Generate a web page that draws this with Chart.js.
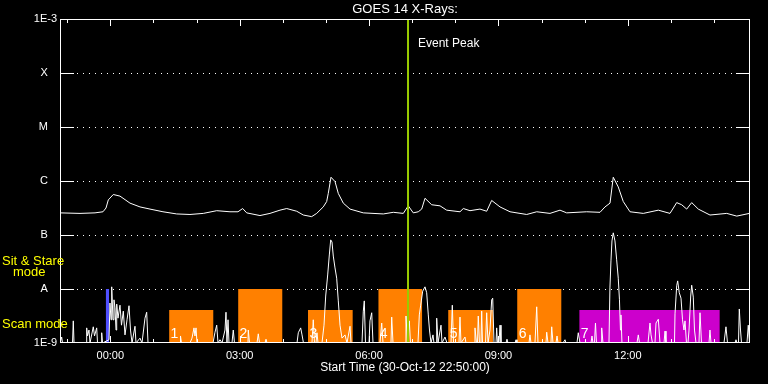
<!DOCTYPE html>
<html>
<head>
<meta charset="utf-8">
<script src="https://cdn.jsdelivr.net/npm/chart.js@4.4.1/dist/chart.umd.min.js"></script>
<style>
  html, body { margin: 0; padding: 0; background: #000; }
  #chart { display: block; }
</style>
</head>
<body>
<canvas id="chart" width="768" height="384"></canvas>
<script>
// times: hours after start (30-Oct-12 22:50:00), flux: log10(W/m^2)
const longTimes = [0, 0.464, 0.812, 0.997, 1.067, 1.120, 1.236, 1.391, 1.623, 1.855, 2.087, 2.388, 2.706, 3.014,
  3.323, 3.634, 3.942, 4.127, 4.236, 4.329, 4.637, 4.869, 5.101, 5.257, 5.489, 5.642, 5.836, 5.952, 6.105,
  6.184, 6.221, 6.284, 6.377, 6.453, 6.569, 6.725, 7.033, 7.497, 7.729, 7.961, 8.076, 8.192, 8.308, 8.387,
  8.464, 8.619, 8.812, 8.967, 9.275, 9.352, 9.507, 9.739, 9.894, 10.010, 10.203, 10.435, 10.822, 11.054,
  11.362, 11.594, 11.749, 12.213, 12.522, 12.638, 12.754, 12.829, 12.945, 13.061, 13.217, 13.525, 13.874,
  14.145, 14.300, 14.416, 14.532, 14.648, 14.801, 15.072, 15.461, 15.693, 15.986];
const longFlux = [-6.59, -6.60, -6.59, -6.57, -6.50, -6.35, -6.25, -6.28, -6.41, -6.48, -6.52, -6.57, -6.61, -6.62,
  -6.60, -6.55, -6.57, -6.57, -6.51, -6.59, -6.64, -6.60, -6.54, -6.51, -6.56, -6.63, -6.66, -6.60, -6.48,
  -6.38, -6.23, -5.93, -6.01, -6.23, -6.41, -6.52, -6.59, -6.61, -6.58, -6.60, -6.46, -6.59, -6.57, -6.52,
  -6.32, -6.44, -6.46, -6.54, -6.57, -6.51, -6.55, -6.52, -6.56, -6.36, -6.48, -6.57, -6.62, -6.57,
  -6.60, -6.54, -6.59, -6.57, -6.58, -6.48, -6.41, -5.93, -6.11, -6.38, -6.57, -6.60, -6.54,
  -6.60, -6.40, -6.44, -6.52, -6.40, -6.52, -6.63, -6.60, -6.65, -6.60];

const shortTimes = [0, 0.039, 0.058, 0.290, 0.308, 0.325, 0.603, 0.619, 0.638, 0.672, 0.696, 0.772, 0.800, 0.851,
  0.870, 0.951, 0.967, 0.986, 1.136, 1.159, 1.183, 1.199, 1.229, 1.252, 1.275, 1.299, 1.315, 1.345, 1.391,
  1.426, 1.468, 1.507, 1.554, 1.600, 1.635, 1.670, 1.739, 1.762, 1.855, 1.901, 1.971, 2.010, 2.041,
  2.783, 2.794, 2.817, 3.014, 3.061, 3.107, 3.130, 3.154, 3.177, 3.548, 3.594, 3.634, 3.664, 3.710, 3.757,
  3.826, 3.849, 3.872, 3.896, 3.919, 3.988, 4.018, 4.046, 4.359, 4.366, 4.394, 4.568, 4.598, 4.626,
  4.754, 4.777, 4.800, 5.496, 5.526, 5.581, 5.612, 5.646, 5.843, 5.873, 5.901, 5.936, 5.959, 5.983,
  6.075, 6.122, 6.161, 6.207, 6.245, 6.277, 6.307, 6.337, 6.377, 6.416, 6.453, 6.493, 6.539, 6.609,
  6.655, 6.725, 6.748, 7.003, 7.033, 7.056, 7.084, 7.165, 7.188, 7.228, 7.258, 7.420, 7.460, 7.490,
  7.675, 7.692, 7.722, 8.000, 8.023, 8.058, 8.100, 8.127, 8.301, 8.332, 8.364, 8.410, 8.464, 8.503,
  8.540, 8.568, 8.603, 8.649, 8.672, 8.719, 8.735, 8.765, 8.835, 8.858, 8.927, 8.974, 9.067, 9.097,
  9.125, 9.252, 9.275, 9.298, 9.391, 9.414, 9.600, 9.623, 9.658, 9.681, 9.699, 9.727, 9.762, 9.778,
  9.797, 9.867, 9.894, 9.925, 9.971, 10.010, 10.034, 10.064, 10.110, 10.126, 10.145, 10.180, 10.203,
  10.226, 10.342, 10.365, 10.388, 10.551, 10.574, 10.597, 10.875, 10.898, 10.922, 11.014, 11.054,
  11.084, 11.269, 11.286, 11.316, 11.385, 11.402, 11.432, 11.501, 11.525, 11.548, 11.664, 11.710,
  11.733, 11.988, 12.018, 12.058, 12.313, 12.336, 12.359, 12.394, 12.417, 12.440, 12.545, 12.561,
  12.591, 12.730, 12.752, 12.776, 12.799, 12.829, 12.869, 12.908, 12.945, 12.973, 12.996, 13.008,
  13.031, 13.379, 13.410, 13.438, 13.635, 13.681, 13.705, 13.739, 13.797, 13.820, 13.874, 13.913,
  14.006, 14.029, 14.052, 14.249, 14.261, 14.300, 14.323, 14.360, 14.400, 14.435, 14.469, 14.493,
  14.527, 14.562, 14.586, 14.625, 14.648, 14.685, 14.713, 14.748, 14.817, 14.841, 14.875, 15.049,
  15.072, 15.096, 15.397, 15.443, 15.478, 15.652, 15.675, 15.699, 15.733, 15.752, 15.780, 15.803,
  15.930, 15.960, 15.988, 16.0];
const shortFlux = [-9, -8.89, -9, -9, -8.59, -9, -9, -8.72, -8.87, -8.76, -9, -8.70, -8.87, -8.72,
  -9, -9, -8.81, -9, -8.94, -8.26, -8.57, -7.96, -8.57, -8.20, -8.35, -8.76, -8.28, -8.54, -8.30,
  -8.67, -8.41, -8.85, -8.57, -8.31, -8.76, -9, -8.69, -9, -8.91, -9, -8.54, -8.43, -9,
  -9, -8.87, -9, -9, -8.91, -8.72, -8.87, -8.72, -9, -9, -8.80, -8.67, -9, -8.94, -9,
  -8.76, -8.43, -9, -8.57, -9, -9, -8.76, -9, -9, -8.76, -9, -9, -8.83, -9,
  -9, -8.93, -9, -9, -8.81, -8.72, -8.85, -9, -9, -8.57, -9, -9, -8.81, -9,
  -9, -8.67, -8.13, -7.74, -7.37, -7.09, -7.13, -7.39, -7.61, -7.80, -8.22, -8.67, -8.91, -8.85,
  -9, -8.69, -9, -9, -8.41, -8.22, -9, -9, -8.59, -8.44, -9, -9, -8.63, -9,
  -9, -8.52, -9, -9, -8.50, -9, -8.59, -9, -9, -8.48, -8.30, -8.04, -7.96, -8.07,
  -8.48, -8.76, -9, -8.85, -9, -9, -8.54, -9, -8.67, -9, -8.89, -9, -9, -8.30,
  -9, -9, -8.52, -9, -8.89, -9, -9, -8.72, -9, -9, -8.50, -9, -9, -8.41,
  -9, -9, -8.44, -9, -8.76, -8.20, -8.17, -9, -9, -8.72, -9, -9, -8.67,
  -9, -9, -8.93, -9, -9, -8.94, -9, -9, -8.85, -9, -9, -8.33,
  -9, -9, -8.80, -9, -9, -8.70, -9, -9, -8.87, -9, -9, -8.94,
  -9, -9, -8.81, -9, -9, -8.87, -9, -9, -8.63, -9, -9, -8.72,
  -9, -9, -7.98, -7.48, -7.11, -6.96, -7.11, -7.46, -7.80, -8.20, -8.76, -8.48,
  -9, -9, -8.85, -9, -9, -8.63, -8.85, -9, -9, -8.63, -8.56, -9,
  -9, -8.78, -9, -9, -8.46, -7.94, -7.85, -8.07, -8.17, -8.57, -8.76, -8.59,
  -9, -9, -8.76, -8.13, -7.93, -8.15, -8.76, -9, -9, -8.44, -9, -9,
  -8.76, -9, -9, -8.70, -9, -9, -8.94, -9, -9, -8.37, -8.76, -9,
  -9, -8.67, -9, -9];

// observing modes: blue marker, then numbered blocks 1..7
const modeLabels = ['', '1', '2', '3', '4', '5', '6', '7'];
const modeStart = [1.06, 2.53, 4.13, 5.75, 7.38, 9.00, 10.60, 12.04];
const modeEnd = [1.14, 3.56, 5.16, 6.79, 8.40, 10.04, 11.63, 15.30];
const modeTop = [-8, -8.39, -8, -8.39, -8, -8.39, -8, -8.39];

const eventPeak = 8.07;

const xTickHours = [1.1667, 4.1667, 7.1667, 10.1667, 13.1667];
const xTickLabels = ['00:00', '03:00', '06:00', '09:00', '12:00'];
const yTickValues = [-9, -8, -7, -6, -5, -4, -3];
const yTickLabels = ['1E-9', 'A', 'B', 'C', 'M', 'X', '1E-3'];

const modeColors = ['#5050ff', '#ff8000', '#ff8000', '#ff8000', '#ff8000', '#ff8000', '#ff8000', '#cc00cc'];
const FONT = '"Liberation Sans", Arial, sans-serif';

const toPoints = (xs, ys) => xs.map((x, i) => ({ x: x, y: ys[i] }));

const datasets = [];
modeStart.forEach((s, i) => {
  datasets.push({
    data: [{ x: s, y: -9 }, { x: s, y: modeTop[i] }, { x: modeEnd[i], y: modeTop[i] }, { x: modeEnd[i], y: -9 }],
    borderWidth: 0,
    backgroundColor: modeColors[i],
    fill: 'start',
    pointRadius: 0,
    order: 10
  });
});
datasets.push({
  data: toPoints(shortTimes, shortFlux),
  borderColor: '#fff', borderWidth: 1, pointRadius: 0, tension: 0, fill: false, order: 3
});
datasets.push({
  data: toPoints(longTimes, longFlux),
  borderColor: '#fff', borderWidth: 1, pointRadius: 0, tension: 0, fill: false, order: 2
});
datasets.push({
  data: [{ x: eventPeak, y: -9 }, { x: eventPeak, y: -3 }],
  borderColor: '#99cc00', borderWidth: 2, pointRadius: 0, fill: false, order: 1
});

const decorations = {
  id: 'decorations',
  beforeDatasetsDraw(chart) {
    const { ctx, chartArea: a, scales: { y } } = chart;
    ctx.save();
    ctx.strokeStyle = '#fff';
    ctx.lineWidth = 1;
    [-8, -7, -6, -5, -4].forEach(v => {
      const py = Math.round(y.getPixelForValue(v)) + 0.5;
      ctx.setLineDash([1, 5]);
      ctx.beginPath();
      ctx.moveTo(a.left + 17, py);
      ctx.lineTo(a.right - 14, py);
      ctx.stroke();
    });
    ctx.restore();
  },
  afterDatasetsDraw(chart) {
    const { ctx, chartArea: a, scales: { x, y } } = chart;
    ctx.save();
    ctx.strokeStyle = '#fff';
    ctx.lineWidth = 1;
    // side stubs
    [-8, -7, -6, -5, -4].forEach(v => {
      const py = Math.round(y.getPixelForValue(v)) + 0.5;
      ctx.beginPath();
      ctx.moveTo(a.left, py); ctx.lineTo(a.left + 14, py);
      ctx.moveTo(a.right - 14, py); ctx.lineTo(a.right, py);
      ctx.stroke();
    });
    // hourly ticks top and bottom
    for (let k = 0; k < 16; k++) {
      const h = (10 + 60 * k) / 60;
      const px = Math.round(x.getPixelForValue(h)) + 0.5;
      const len = (k - 1) % 3 === 0 ? 7 : 4;
      ctx.beginPath();
      ctx.moveTo(px, a.top); ctx.lineTo(px, a.top + len);
      ctx.moveTo(px, a.bottom); ctx.lineTo(px, a.bottom - len);
      ctx.stroke();
    }
    // frame
    ctx.strokeRect(Math.round(a.left) + 0.5, Math.round(a.top) + 0.5,
      Math.round(a.right - a.left) - 1, Math.round(a.bottom - a.top) - 1);

    // mode numbers
    ctx.fillStyle = '#fff';
    ctx.font = '14px ' + FONT;
    ctx.textBaseline = 'alphabetic';
    modeLabels.forEach((lab, i) => {
      if (!lab) return;
      ctx.fillText(lab, x.getPixelForValue(modeStart[i]) + 1.5, y.getPixelForValue(-9) - 5);
    });

    // event label
    ctx.font = '12px ' + FONT;
    ctx.fillText('Event Peak', x.getPixelForValue(eventPeak) + 10, 46.5);

    // mode legend on the left
    ctx.fillStyle = '#ffff00';
    ctx.font = '13px ' + FONT;
    ctx.fillText('Sit & Stare', 2, 265);
    ctx.fillText('mode', 13, 276);
    ctx.fillText('Scan mode', 2, 328);
    ctx.restore();
  }
};

new Chart(document.getElementById('chart'), {
  type: 'line',
  data: { datasets: datasets },
  options: {
    responsive: false,
    animation: false,
    layout: { padding: { left: 0, right: 18, top: 0, bottom: 0 } },
    plugins: {
      legend: { display: false },
      tooltip: { enabled: false },
      title: {
        display: true,
        fullSize: false,
        text: 'GOES 14 X-Rays:',
        color: '#fff',
        font: { family: FONT, size: 13, weight: 'normal', lineHeight: 1.2 },
        padding: { top: 2, bottom: 1.4 }
      }
    },
    scales: {
      x: {
        type: 'linear',
        min: 0,
        max: 16,
        grid: { display: false, drawTicks: false },
        border: { display: false },
        afterBuildTicks: s => { s.ticks = xTickHours.map(v => ({ value: v })); },
        afterFit: s => { s.height = 41; },
        ticks: {
          color: '#fff',
          autoSkip: false,
          maxRotation: 0,
          padding: 6,
          font: { family: FONT, size: 11 },
          callback: (v, i) => xTickLabels[i]
        },
        title: {
          display: true,
          text: 'Start Time (30-Oct-12 22:50:00)',
          color: '#fff',
          font: { family: FONT, size: 12 },
          padding: { top: 0, bottom: 9 }
        }
      },
      y: {
        type: 'linear',
        min: -9,
        max: -3,
        grid: { display: false, drawTicks: false },
        border: { display: false },
        afterBuildTicks: s => { s.ticks = yTickValues.map(v => ({ value: v })); },
        afterFit: s => { s.width = 60; },
        ticks: {
          color: '#fff',
          padding: 3,
          font: { family: FONT, size: 11 },
          callback: (v, i) => yTickLabels[i].length === 1 ? yTickLabels[i] + '   ' : yTickLabels[i]
        }
      }
    }
  },
  plugins: [decorations]
});
</script>
</body>
</html>
